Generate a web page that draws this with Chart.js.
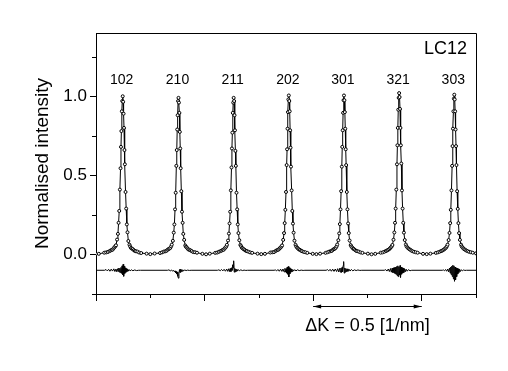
<!DOCTYPE html>
<html>
<head>
<meta charset="utf-8">
<script src="https://cdn.jsdelivr.net/npm/chart.js@4"></script>
<style>
  body { margin: 0; background: #fff; }
  canvas { display: block; }
</style>
</head>
<body>
<canvas id="lc12" width="508" height="371"></canvas>
<script>
// peak positions (1/nm, arbitrary origin) and their hkl labels
const peakLabels = ['102', '210', '211', '202', '301', '321', '303'];
const peakPos = [0.123, 0.380, 0.634, 0.888, 1.142, 1.396, 1.650];

const xMajor = [0, 0.5, 1.0, 1.5];
const xMinor = [0.25, 0.75, 1.25, 1.75];
const yMajor = [0, 0.5, 1.0];
const yMinor = [-0.25, 0.25, 0.75, 1.25];

// measured profile, [K, normalised intensity]
const peak102 = [[0.000,0.003],[0.013,0.004],[0.038,0.011],[0.047,0.013],[0.055,0.016],[0.062,0.021],[0.067,0.025],[0.072,0.028],[0.077,0.031],[0.081,0.039],[0.085,0.045],[0.089,0.052],[0.092,0.058],[0.097,0.094],[0.101,0.130],[0.104,0.200],[0.107,0.275],[0.110,0.410],[0.113,0.545],[0.115,0.680],[0.117,0.780],[0.119,0.905],[0.121,0.970],[0.123,1.000],[0.125,0.965],[0.127,0.890],[0.129,0.800],[0.131,0.660],[0.133,0.570],[0.136,0.395],[0.139,0.290],[0.142,0.190],[0.145,0.140],[0.149,0.085],[0.154,0.062],[0.157,0.051],[0.161,0.041],[0.165,0.037],[0.169,0.034],[0.174,0.027],[0.179,0.022],[0.184,0.020],[0.191,0.018],[0.199,0.012],[0.208,0.009],[0.233,0.005],[0.250,0.002]];
const peak210 = [[0.270,0.006],[0.295,0.009],[0.304,0.013],[0.312,0.018],[0.319,0.020],[0.324,0.022],[0.329,0.029],[0.334,0.034],[0.338,0.037],[0.342,0.041],[0.346,0.051],[0.349,0.062],[0.354,0.086],[0.358,0.138],[0.361,0.190],[0.364,0.285],[0.367,0.390],[0.370,0.560],[0.372,0.660],[0.374,0.790],[0.376,0.880],[0.378,0.970],[0.380,0.990],[0.382,0.960],[0.384,0.895],[0.386,0.775],[0.388,0.670],[0.390,0.545],[0.393,0.400],[0.396,0.270],[0.399,0.200],[0.402,0.130],[0.406,0.092],[0.411,0.057],[0.414,0.049],[0.418,0.044],[0.422,0.037],[0.426,0.031],[0.431,0.029],[0.436,0.025],[0.441,0.021],[0.448,0.015],[0.456,0.014],[0.465,0.011],[0.490,0.004],[0.507,0.001]];
const peak211 = [[0.524,0.005],[0.549,0.010],[0.558,0.012],[0.566,0.017],[0.573,0.021],[0.578,0.024],[0.583,0.028],[0.588,0.030],[0.592,0.038],[0.596,0.043],[0.600,0.050],[0.603,0.061],[0.608,0.088],[0.612,0.132],[0.615,0.196],[0.618,0.270],[0.621,0.405],[0.624,0.550],[0.626,0.670],[0.628,0.770],[0.630,0.895],[0.632,0.960],[0.634,0.990],[0.636,0.970],[0.638,0.880],[0.640,0.785],[0.642,0.655],[0.644,0.560],[0.647,0.390],[0.650,0.285],[0.653,0.190],[0.656,0.135],[0.660,0.090],[0.665,0.060],[0.668,0.052],[0.672,0.042],[0.676,0.038],[0.680,0.033],[0.685,0.029],[0.690,0.023],[0.695,0.021],[0.702,0.017],[0.710,0.013],[0.719,0.010],[0.744,0.005],[0.761,0.002]];
const peak202 = [[0.778,0.004],[0.803,0.012],[0.812,0.014],[0.820,0.015],[0.827,0.022],[0.832,0.026],[0.837,0.029],[0.842,0.032],[0.846,0.039],[0.850,0.044],[0.854,0.050],[0.857,0.057],[0.862,0.092],[0.866,0.135],[0.869,0.198],[0.872,0.282],[0.875,0.395],[0.878,0.565],[0.880,0.665],[0.882,0.795],[0.884,0.900],[0.886,0.980],[0.888,1.005],[0.890,0.970],[0.892,0.905],[0.894,0.785],[0.896,0.675],[0.898,0.555],[0.901,0.405],[0.904,0.275],[0.907,0.195],[0.910,0.138],[0.914,0.087],[0.919,0.061],[0.922,0.050],[0.926,0.043],[0.930,0.038],[0.934,0.032],[0.939,0.029],[0.944,0.024],[0.949,0.021],[0.956,0.016],[0.964,0.014],[0.973,0.010],[0.998,0.004],[1.015,0.002]];
const peak301 = [[1.032,0.005],[1.057,0.010],[1.066,0.014],[1.074,0.018],[1.081,0.021],[1.086,0.023],[1.091,0.030],[1.096,0.034],[1.100,0.037],[1.104,0.042],[1.108,0.051],[1.111,0.063],[1.116,0.090],[1.120,0.133],[1.123,0.192],[1.126,0.285],[1.129,0.400],[1.132,0.555],[1.134,0.680],[1.136,0.785],[1.138,0.895],[1.140,0.975],[1.142,1.005],[1.144,0.975],[1.146,0.900],[1.148,0.795],[1.150,0.665],[1.152,0.565],[1.155,0.395],[1.158,0.285],[1.161,0.196],[1.164,0.135],[1.168,0.088],[1.173,0.059],[1.176,0.050],[1.180,0.044],[1.184,0.037],[1.188,0.034],[1.193,0.028],[1.198,0.023],[1.203,0.021],[1.210,0.018],[1.218,0.013],[1.227,0.010],[1.252,0.005],[1.269,0.001]];
const peak321 = [[1.286,0.004],[1.311,0.011],[1.320,0.013],[1.328,0.017],[1.335,0.022],[1.340,0.025],[1.345,0.029],[1.350,0.033],[1.354,0.039],[1.358,0.045],[1.362,0.051],[1.365,0.060],[1.370,0.093],[1.374,0.139],[1.377,0.200],[1.380,0.290],[1.383,0.410],[1.386,0.570],[1.388,0.690],[1.390,0.800],[1.392,0.915],[1.394,0.990],[1.396,1.020],[1.398,0.995],[1.400,0.920],[1.402,0.800],[1.404,0.690],[1.406,0.575],[1.409,0.405],[1.412,0.290],[1.415,0.200],[1.418,0.138],[1.422,0.091],[1.427,0.063],[1.430,0.051],[1.434,0.044],[1.438,0.039],[1.442,0.034],[1.447,0.030],[1.452,0.025],[1.457,0.021],[1.464,0.017],[1.472,0.014],[1.481,0.011],[1.506,0.004],[1.523,0.002]];
const peak303 = [[1.540,0.005],[1.565,0.010],[1.574,0.013],[1.582,0.017],[1.589,0.021],[1.594,0.024],[1.599,0.028],[1.604,0.033],[1.608,0.038],[1.612,0.043],[1.616,0.051],[1.619,0.062],[1.624,0.091],[1.628,0.136],[1.631,0.198],[1.634,0.282],[1.637,0.405],[1.640,0.560],[1.642,0.685],[1.644,0.795],[1.646,0.905],[1.648,0.985],[1.650,1.010],[1.652,0.980],[1.654,0.905],[1.656,0.790],[1.658,0.685],[1.660,0.565],[1.663,0.400],[1.666,0.288],[1.669,0.198],[1.672,0.135],[1.676,0.092],[1.681,0.062],[1.684,0.051],[1.688,0.044],[1.692,0.038],[1.696,0.033],[1.701,0.029],[1.706,0.024],[1.711,0.021],[1.718,0.017],[1.726,0.014],[1.735,0.011],[1.750,0.007]];

// fit residual, plotted offset to -0.1
const res102 = [[0.000,-0.100],[0.040,-0.100],[0.046,-0.095],[0.052,-0.104],[0.058,-0.094],[0.064,-0.106],[0.070,-0.093],[0.076,-0.105],[0.082,-0.091],[0.087,-0.108],[0.092,-0.092],[0.096,-0.110],[0.100,-0.090],[0.1025,-0.107],[0.105,-0.086],[0.1075,-0.112],[0.110,-0.088],[0.1125,-0.115],[0.115,-0.082],[0.1175,-0.120],[0.120,-0.072],[0.1225,-0.128],[0.125,-0.062],[0.1275,-0.138],[0.130,-0.075],[0.1325,-0.120],[0.135,-0.085],[0.1375,-0.113],[0.140,-0.090],[0.1425,-0.108],[0.145,-0.093],[0.148,-0.106],[0.152,-0.095],[0.157,-0.104],[0.163,-0.097],[0.170,-0.103],[0.178,-0.098],[0.187,-0.102],[0.196,-0.100],[0.205,-0.100]];
const res210 = [[0.330,-0.100],[0.336,-0.097],[0.342,-0.104],[0.348,-0.098],[0.353,-0.106],[0.358,-0.101],[0.362,-0.110],[0.3645,-0.104],[0.367,-0.116],[0.3695,-0.108],[0.372,-0.124],[0.3745,-0.112],[0.377,-0.138],[0.3795,-0.150],[0.382,-0.122],[0.3845,-0.095],[0.387,-0.114],[0.3895,-0.093],[0.392,-0.109],[0.3945,-0.096],[0.397,-0.106],[0.400,-0.097],[0.404,-0.104],[0.409,-0.098],[0.415,-0.102],[0.422,-0.099],[0.430,-0.101],[0.438,-0.100]];
const res211 = [[0.560,-0.100],[0.566,-0.097],[0.572,-0.103],[0.578,-0.095],[0.584,-0.104],[0.590,-0.094],[0.596,-0.106],[0.602,-0.092],[0.607,-0.107],[0.612,-0.090],[0.616,-0.109],[0.619,-0.089],[0.6215,-0.108],[0.624,-0.084],[0.6265,-0.100],[0.629,-0.065],[0.6315,-0.085],[0.634,-0.040],[0.6365,-0.112],[0.639,-0.088],[0.6415,-0.110],[0.644,-0.092],[0.6465,-0.106],[0.649,-0.094],[0.652,-0.105],[0.656,-0.096],[0.661,-0.103],[0.667,-0.097],[0.674,-0.102],[0.682,-0.099],[0.690,-0.101],[0.698,-0.100]];
const res202 = [[0.820,-0.100],[0.826,-0.098],[0.832,-0.104],[0.838,-0.095],[0.844,-0.106],[0.850,-0.093],[0.856,-0.107],[0.861,-0.092],[0.866,-0.110],[0.870,-0.088],[0.873,-0.112],[0.8755,-0.090],[0.878,-0.118],[0.8805,-0.080],[0.883,-0.125],[0.8855,-0.076],[0.888,-0.142],[0.8905,-0.084],[0.893,-0.122],[0.8955,-0.090],[0.898,-0.112],[0.9005,-0.093],[0.903,-0.108],[0.906,-0.095],[0.910,-0.105],[0.915,-0.096],[0.921,-0.104],[0.928,-0.097],[0.936,-0.102],[0.945,-0.099],[0.954,-0.101],[0.962,-0.100]];
const res301 = [[1.060,-0.100],[1.066,-0.096],[1.072,-0.104],[1.078,-0.094],[1.084,-0.106],[1.090,-0.093],[1.096,-0.107],[1.102,-0.092],[1.108,-0.108],[1.113,-0.090],[1.118,-0.111],[1.122,-0.088],[1.1255,-0.112],[1.128,-0.086],[1.1305,-0.114],[1.133,-0.082],[1.1355,-0.110],[1.138,-0.070],[1.1405,-0.045],[1.143,-0.118],[1.1455,-0.086],[1.148,-0.112],[1.1505,-0.089],[1.153,-0.109],[1.156,-0.091],[1.160,-0.107],[1.165,-0.093],[1.170,-0.105],[1.176,-0.095],[1.183,-0.104],[1.190,-0.097],[1.198,-0.102],[1.206,-0.098],[1.215,-0.101],[1.224,-0.100]];
const res321 = [[1.328,-0.100],[1.334,-0.096],[1.340,-0.105],[1.346,-0.092],[1.351,-0.108],[1.356,-0.089],[1.360,-0.112],[1.364,-0.086],[1.3675,-0.115],[1.370,-0.084],[1.3725,-0.118],[1.375,-0.082],[1.3775,-0.122],[1.380,-0.080],[1.3825,-0.126],[1.385,-0.076],[1.3875,-0.135],[1.390,-0.072],[1.3925,-0.140],[1.395,-0.078],[1.3975,-0.130],[1.400,-0.070],[1.4025,-0.145],[1.405,-0.080],[1.4075,-0.125],[1.410,-0.084],[1.4125,-0.118],[1.415,-0.087],[1.4175,-0.114],[1.420,-0.090],[1.424,-0.110],[1.428,-0.093],[1.433,-0.106],[1.439,-0.096],[1.446,-0.103],[1.454,-0.100]];
const res303 = [[1.595,-0.100],[1.600,-0.098],[1.605,-0.103],[1.610,-0.095],[1.615,-0.106],[1.620,-0.092],[1.624,-0.110],[1.628,-0.086],[1.631,-0.118],[1.6335,-0.080],[1.636,-0.128],[1.6385,-0.074],[1.641,-0.140],[1.6435,-0.068],[1.646,-0.155],[1.6485,-0.072],[1.651,-0.170],[1.6535,-0.080],[1.656,-0.160],[1.6585,-0.085],[1.661,-0.140],[1.6635,-0.088],[1.666,-0.124],[1.6685,-0.091],[1.671,-0.114],[1.674,-0.094],[1.678,-0.108],[1.682,-0.096],[1.687,-0.104],[1.693,-0.098],[1.699,-0.101],[1.706,-0.100],[1.750,-0.100]];

const measured = [peak102, peak210, peak211, peak202, peak301, peak321, peak303].flat().map(p => ({x: p[0], y: p[1]}));
const residual = [res102, res210, res211, res202, res301, res321, res303].flat().map(p => ({x: p[0], y: p[1]}));

const FONT = '"Liberation Sans", Arial, sans-serif';

const extras = {
  id: 'extras',
  afterDraw(chart) {
    const {ctx, chartArea: a, scales: {x, y}} = chart;
    ctx.save();
    ctx.strokeStyle = '#000';
    ctx.fillStyle = '#000';
    ctx.lineWidth = 1;

    // top and right of the frame
    ctx.beginPath();
    ctx.moveTo(a.left, a.top + 0.5);
    ctx.lineTo(Math.round(a.right) + 0.5, a.top + 0.5);
    ctx.lineTo(Math.round(a.right) + 0.5, a.bottom + 1);
    ctx.stroke();

    // minor ticks
    ctx.beginPath();
    xMinor.forEach(v => {
      const px = Math.round(x.getPixelForValue(v)) + 0.5;
      ctx.moveTo(px, a.bottom);
      ctx.lineTo(px, a.bottom + 4);
    });
    yMinor.forEach(v => {
      const py = Math.round(y.getPixelForValue(v)) + 0.5;
      ctx.moveTo(a.left - 4, py);
      ctx.lineTo(a.left, py);
    });
    ctx.stroke();

    // hkl labels
    ctx.font = '14px ' + FONT;
    ctx.textAlign = 'center';
    ctx.textBaseline = 'middle';
    peakLabels.forEach((t, i) => {
      ctx.fillText(t, x.getPixelForValue(peakPos[i]) - 1, y.getPixelForValue(1.105));
    });

    ctx.font = '18px ' + FONT;
    ctx.textAlign = 'right';
    ctx.fillText('LC12', a.right - 9, a.top + 16);

    // scale bar for dK = 0.5
    const x1 = x.getPixelForValue(1.0), x2 = x.getPixelForValue(1.5);
    const ay = a.bottom + 12.5;
    ctx.beginPath();
    ctx.moveTo(x1, ay);
    ctx.lineTo(x2, ay);
    ctx.stroke();
    ctx.beginPath();
    ctx.moveTo(x1, ay); ctx.lineTo(x1 + 8, ay - 2); ctx.lineTo(x1 + 8, ay + 2); ctx.closePath();
    ctx.moveTo(x2, ay); ctx.lineTo(x2 - 8, ay - 2); ctx.lineTo(x2 - 8, ay + 2); ctx.closePath();
    ctx.fill();

    ctx.textAlign = 'center';
    ctx.fillText('\u0394K = 0.5 [1/nm]', (x1 + x2) / 2, a.bottom + 32);
    ctx.restore();
  }
};

new Chart(document.getElementById('lc12'), {
  type: 'scatter',
  data: {
    datasets: [
      {
        label: 'residual',
        data: residual,
        showLine: true,
        borderColor: '#000',
        borderWidth: 1,
        pointRadius: 0,
        tension: 0
      },
      {
        label: 'LC12',
        data: measured,
        showLine: true,
        borderColor: '#000',
        borderWidth: 1,
        pointRadius: 1.5,
        pointBorderWidth: 1,
        pointBackgroundColor: '#fff',
        pointBorderColor: '#000',
        tension: 0
      }
    ]
  },
  options: {
    responsive: false,
    animation: false,
    layout: { padding: { left: 0, right: 32, top: 33, bottom: 0 } },
    plugins: { legend: { display: false }, tooltip: { enabled: false } },
    scales: {
      x: {
        type: 'linear',
        min: 0,
        max: 1.75,
        afterBuildTicks: s => { s.ticks = xMajor.map(v => ({value: v})); },
        afterFit: s => { s.height = 77; },
        ticks: { display: false },
        grid: { drawOnChartArea: false, tickLength: 7, color: '#000' },
        border: { color: '#000' }
      },
      y: {
        min: -0.25,
        max: 1.4,
        afterBuildTicks: s => { s.ticks = yMajor.map(v => ({value: v})); },
        afterFit: s => { s.width = 96; },
        ticks: {
          callback: v => v.toFixed(1),
          color: '#000',
          padding: 3,
          font: { family: FONT, size: 17 }
        },
        grid: { drawOnChartArea: false, tickLength: 6, color: '#000' },
        border: { color: '#000' },
        title: {
          display: true,
          text: 'Normalised intensity',
          color: '#000',
          font: { family: FONT, size: 19 },
          padding: { top: 31, bottom: 0 }
        }
      }
    }
  },
  plugins: [extras]
});
</script>
</body>
</html>
